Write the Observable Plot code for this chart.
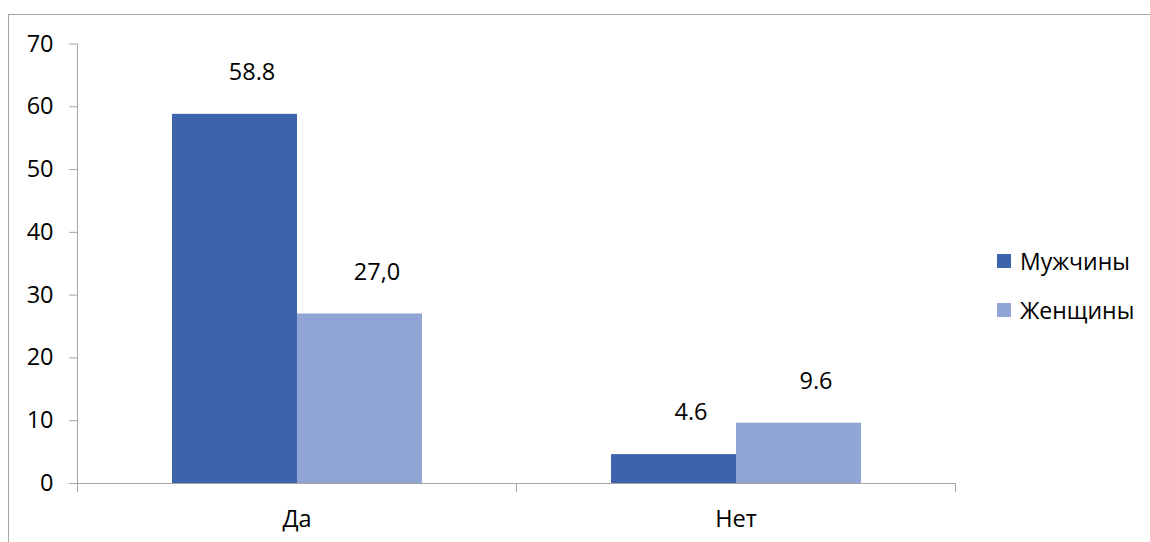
<!DOCTYPE html>
<html>
<head>
<meta charset="utf-8">
<script src="https://cdn.jsdelivr.net/npm/d3@7"></script>
<script src="https://cdn.jsdelivr.net/npm/@observablehq/plot@0.6"></script>
<style>
  html, body { margin: 0; padding: 0; background: #fff; }
  body { width: 1150px; height: 542px; position: relative; overflow: hidden; font-family: "Open Sans", sans-serif; }
  #border { position: absolute; left: 8px; top: 14px; width: 1300px; height: 700px; border: 1px solid #a6a6a6; box-sizing: border-box; }
  #chart { position: absolute; left: 0; top: 0; }
  #legend { position: absolute; left: 997px; top: 236px; font-size: 23px; color: #000; }
  .item { display: flex; align-items: center; height: 49px; }
  .swatch { width: 14px; height: 14px; margin-right: 9px; flex: none; }
</style>
</head>
<body>
<div id="border"></div>
<div id="chart"></div>
<div id="legend"></div>
<script>
// Answers by group
const categories = ["Да", "Нет"];
const series = ["Мужчины", "Женщины"];
const menLabels = ["58.8", "4.6"];
const womenLabels = ["27,0", "9.6"];
const colors = ["#3D64AA", "#91A5D4"];
const yTicks = [0, 10, 20, 30, 40, 50, 60, 70];

const rows = [];
categories.forEach((c, i) => {
  [menLabels, womenLabels].forEach((labels, s) => {
    const text = labels[i];
    rows.push({category: c, series: series[s], label: text, value: +text.replace(",", ".")});
  });
});

const axisColor = "#a6a6a6";
const fs = 23.5;

const chart = Plot.plot({
  width: 1150,
  height: 542,
  marginLeft: 77,
  marginRight: 195,
  marginTop: 43.5,
  marginBottom: 59,
  style: {fontFamily: "'Open Sans', sans-serif", fontSize: fs + "px", color: "#000", background: "transparent", overflow: "visible"},
  fx: {domain: categories, padding: 0},
  x: {domain: series, paddingInner: 0, paddingOuter: 0.756, axis: null},
  y: {domain: [0, 70]},
  color: {domain: series, range: colors},
  marks: [
    Plot.barY(rows, {fx: "category", x: "series", y: "value", fill: "series"}),
    Plot.ruleY([0], {stroke: axisColor, strokeWidth: 1}),
    Plot.frame({anchor: "right", stroke: axisColor, insetTop: 439.5, insetBottom: -8}),
    Plot.frame({anchor: "left", facet: "super", stroke: axisColor, insetBottom: -8}),
    Plot.axisY({ticks: yTicks, tickSize: 8, tickPadding: 16, stroke: axisColor, fill: "#000", label: null, fontSize: fs}),
    Plot.axisFx({anchor: "bottom", tickSize: 0, tickPadding: 27, label: null, fill: "#000", fontSize: fs}),
    Plot.text(rows, {fx: "category", x: "series", y: "value", text: "label", dx: 17, dy: -42, fill: "#000", fontSize: fs})
  ]
});
document.getElementById("chart").append(chart);

// Legend
const legend = d3.select("#legend");
series.forEach((s, i) => {
  const item = legend.append("div").attr("class", "item");
  item.append("div").attr("class", "swatch").style("background", colors[i]);
  item.append("span").text(s);
});
</script>
</body>
</html>
